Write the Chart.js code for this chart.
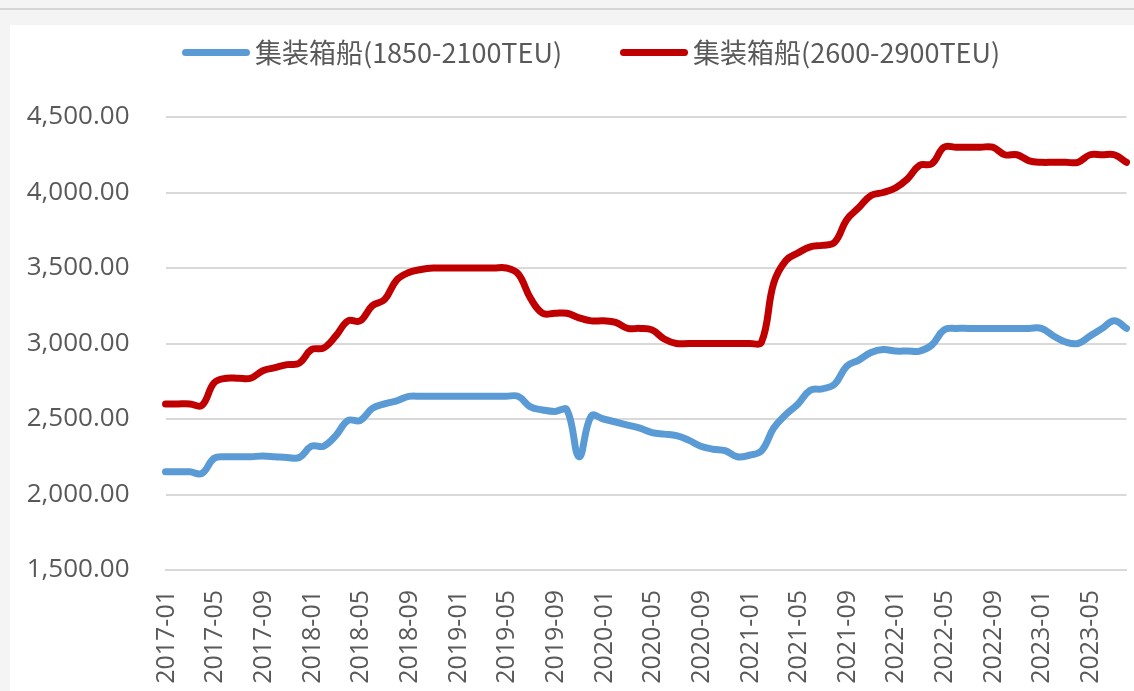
<!DOCTYPE html>
<html>
<head>
<meta charset="utf-8">
<script src="https://cdn.jsdelivr.net/npm/chart.js@4.4.0/dist/chart.umd.min.js"></script>
<style>
  html, body { margin: 0; padding: 0; width: 1134px; height: 691px; overflow: hidden; background: #f4f4f4; }
  #topline { position: absolute; left: 0; top: 8px; width: 1134px; height: 2px; background: #d6d6d6; }
  #panel { position: absolute; left: 10px; top: 25px; width: 1124px; height: 666px; background: #fff; }
  #legend { position: absolute; left: 172px; top: 9px; display: flex; align-items: center;
            font-family: "Noto Sans CJK SC", sans-serif; font-size: 27px; line-height: 36px; color: #595959; }
  .item { display: flex; align-items: center; margin-right: 58px; }
  .swatch { width: 68px; height: 7px; border-radius: 4px; margin-right: 5px; }
  canvas { position: absolute; left: 0; top: 0; }
</style>
</head>
<body>
<div id="topline"></div>
<div id="panel">
  <canvas id="chart" width="1124" height="666"></canvas>
  <div id="legend"></div>
</div>
<script>
const months = [
  "2017-01","2017-02","2017-03","2017-04","2017-05","2017-06","2017-07","2017-08","2017-09","2017-10","2017-11","2017-12",
  "2018-01","2018-02","2018-03","2018-04","2018-05","2018-06","2018-07","2018-08","2018-09","2018-10","2018-11","2018-12",
  "2019-01","2019-02","2019-03","2019-04","2019-05","2019-06","2019-07","2019-08","2019-09","2019-10","2019-11","2019-12",
  "2020-01","2020-02","2020-03","2020-04","2020-05","2020-06","2020-07","2020-08","2020-09","2020-10","2020-11","2020-12",
  "2021-01","2021-02","2021-03","2021-04","2021-05","2021-06","2021-07","2021-08","2021-09","2021-10","2021-11","2021-12",
  "2022-01","2022-02","2022-03","2022-04","2022-05","2022-06","2022-07","2022-08","2022-09","2022-10","2022-11","2022-12",
  "2023-01","2023-02","2023-03","2023-04","2023-05","2023-06","2023-07","2023-08"
];

// 集装箱船(1850-2100TEU)
const small = [
  2150,2150,2150,2140,2240,2250,2250,2250,2255,2250,2245,2245,
  2320,2320,2390,2490,2490,2570,2600,2620,2650,2650,2650,2650,
  2650,2650,2650,2650,2650,2650,2580,2560,2550,2560,2250,2520,
  2500,2480,2460,2440,2410,2400,2390,2360,2320,2300,2290,2250,
  2260,2290,2440,2530,2600,2690,2700,2730,2850,2890,2940,2960,
  2950,2950,2950,2990,3090,3100,3100,3100,3100,3100,3100,3100,
  3100,3050,3010,3000,3050,3100,3150,3100
];

// 集装箱船(2600-2900TEU)
const large = [
  2600,2600,2600,2590,2740,2770,2770,2770,2820,2840,2860,2870,
  2960,2970,3050,3150,3150,3250,3290,3420,3470,3490,3500,3500,
  3500,3500,3500,3500,3500,3460,3300,3200,3200,3200,3170,3150,
  3150,3140,3100,3100,3090,3030,3000,3000,3000,3000,3000,3000,
  3000,3010,3400,3550,3600,3640,3650,3670,3820,3900,3980,4000,
  4030,4090,4180,4190,4300,4300,4300,4300,4300,4250,4250,4210,
  4200,4200,4200,4200,4250,4250,4250,4200
];

const seriesNames = ["集装箱船(1850-2100TEU)", "集装箱船(2600-2900TEU)"];
const seriesColors = ["#5b9bd5", "#c00000"];
const yTicks = [1500, 2000, 2500, 3000, 3500, 4000, 4500];

const xFont = { family: "'Open Sans', sans-serif", size: 25 };
const yFont = { family: "'Open Sans', sans-serif", size: 26 };

function makeSet(i, data) {
  return {
    label: seriesNames[i],
    data: data,
    borderColor: seriesColors[i],
    backgroundColor: seriesColors[i],
    borderWidth: 7,
    borderCapStyle: "round",
    borderJoinStyle: "round",
    pointRadius: 0,
    tension: 0.4
  };
}

const chart = new Chart(document.getElementById("chart"), {
  type: "line",
  data: {
    labels: months,
    datasets: [makeSet(0, small), makeSet(1, large)]
  },
  options: {
    responsive: false,
    animation: false,
    layout: { padding: { top: 92, right: 7.5, left: 0, bottom: 0 } },
    plugins: { legend: { display: false }, tooltip: { enabled: false } },
    scales: {
      x: {
        grid: { display: false, drawTicks: false },
        border: { display: true, color: "#d9d9d9", width: 2 },
        ticks: {
          autoSkip: false,
          minRotation: 90,
          maxRotation: 90,
          padding: 20,
          labelOffset: 1,
          color: "#595959",
          font: xFont,
          callback: function (v, i) { return i % 4 === 0 ? months[i] : null; }
        },
        afterFit: function (s) { s.height = 121; s.paddingRight = 0; s.paddingLeft = 0; }
      },
      y: {
        min: 1500,
        max: 4500,
        afterBuildTicks: function (s) { s.ticks = yTicks.map(v => ({ value: v })); },
        grid: { color: "#d9d9d9", lineWidth: 2, drawTicks: false },
        border: { display: false },
        ticks: {
          padding: 36,
          color: "#595959",
          font: yFont,
          callback: v => v.toLocaleString("en-US", { minimumFractionDigits: 2, maximumFractionDigits: 2 })
        },
        afterFit: function (s) { s.width = 155.5; }
      }
    }
  }
});

// html legend built from the datasets
const legendEl = document.getElementById("legend");
chart.data.datasets.forEach(ds => {
  const item = document.createElement("div");
  item.className = "item";
  const sw = document.createElement("span");
  sw.className = "swatch";
  sw.style.background = ds.borderColor;
  const txt = document.createElement("span");
  txt.textContent = ds.label;
  item.appendChild(sw);
  item.appendChild(txt);
  legendEl.appendChild(item);
});
</script>
</body>
</html>
